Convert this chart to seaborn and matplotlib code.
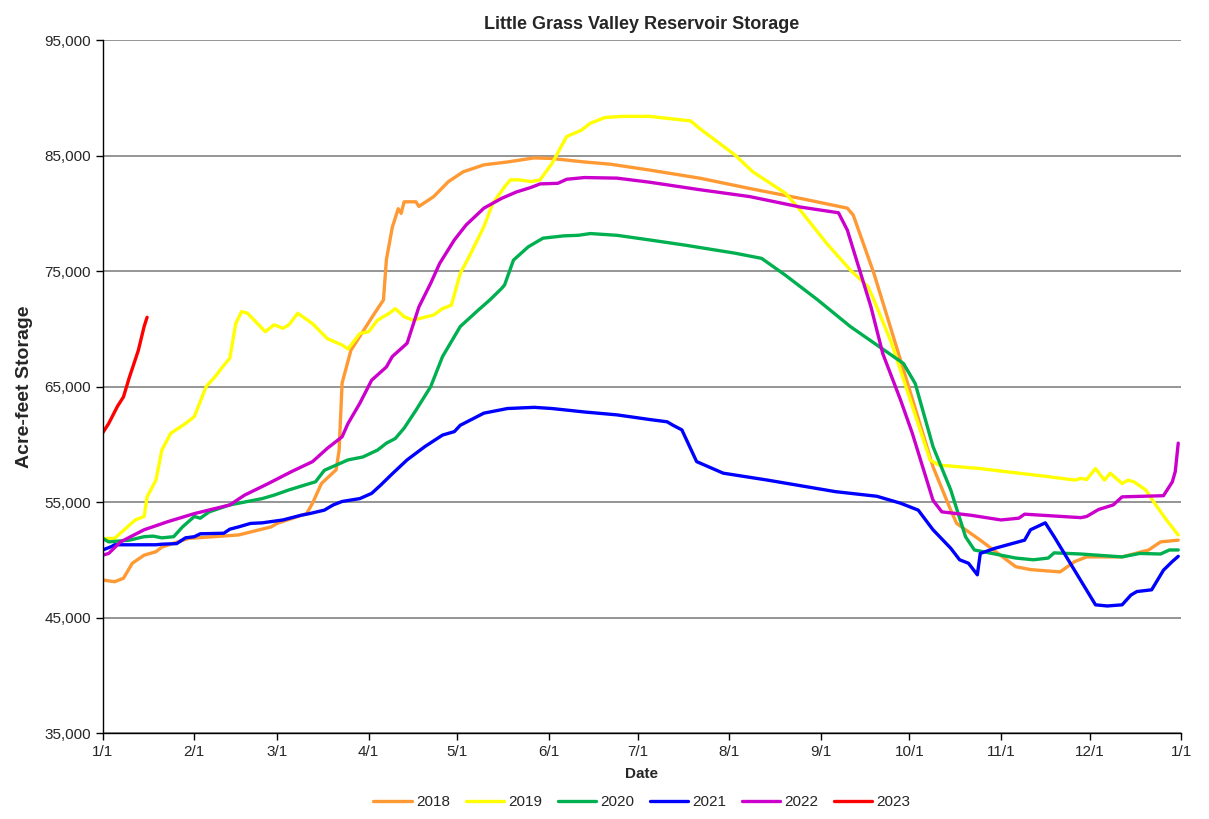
import matplotlib
matplotlib.use("Agg")
import matplotlib.pyplot as plt
import matplotlib.ticker as mticker
import pandas as pd
import seaborn as sns

#########################
#   STORAGE BY YEAR     #
#########################
# day of year (0 = Jan 1) and storage in acre-feet
days_2018 = [0, 4, 7, 10, 14, 18, 20, 29, 46, 57, 59, 69, 71, 74, 79, 80, 81, 84, 92, 95, 96, 98, 100, 101,
             102, 106, 107, 112, 117, 122, 129, 137, 146, 152, 163, 172, 185, 202, 219, 236, 252, 254, 261,
             270, 281, 287, 289, 297, 309, 314, 324, 329, 333, 345, 354, 358, 364]
vals_2018 = [48250, 48100, 48400, 49700, 50400, 50700, 51100, 51850, 52150, 52850, 53150, 54000, 54900,
             56600, 57800, 59500, 65300, 68150, 71350, 72500, 76000, 78800, 80400, 80000, 81000, 81000,
             80600, 81450, 82750, 83600, 84200, 84450, 84800, 84750, 84450, 84250, 83750, 83050, 82150,
             81300, 80450, 79850, 74800, 67300, 58050, 54300, 53150, 51700, 49400, 49150, 48950, 49850,
             50250, 50250, 50850, 51550, 51700]

days_2019 = [0, 4, 9, 11, 14, 15, 18, 20, 23, 28, 31, 35, 38, 41, 43, 45, 47, 49, 55, 58, 61, 63, 66, 71,
             76, 81, 83, 87, 90, 93, 97, 99, 102, 105, 112, 115, 118, 121, 124, 129, 132, 136, 138, 141,
             145, 148, 152, 157, 162, 165, 170, 176, 185, 199, 202, 214, 220, 231, 236, 245, 253, 259,
             261, 267, 280, 283, 297, 305, 320, 329, 331, 333, 336, 339, 341, 345, 347, 349, 353, 356,
             360, 364]
vals_2019 = [51850, 51850, 53000, 53450, 53750, 55450, 56900, 59500, 60950, 61800, 62400, 65000, 65850,
             66850, 67450, 70450, 71500, 71350, 69750, 70350, 70050, 70350, 71350, 70450, 69150, 68600,
             68250, 69600, 69750, 70750, 71350, 71750, 71050, 70750, 71200, 71750, 72050, 74800, 76250,
             78850, 80850, 82300, 82900, 82900, 82750, 82900, 84300, 86650, 87200, 87800, 88300, 88400,
             88400, 88000, 87350, 85050, 83600, 81750, 80300, 77400, 75100, 73650, 72500, 68750, 58650,
             58200, 57900, 57650, 57200, 56900, 57050, 56950, 57900, 56900, 57500, 56600, 56900, 56750,
             56050, 54900, 53450, 52150]

days_2020 = [0, 2, 9, 14, 17, 20, 24, 27, 31, 33, 36, 43, 54, 58, 63, 70, 72, 75, 79, 83, 88, 93, 96, 99,
             102, 106, 111, 115, 121, 127, 131, 135, 136, 139, 144, 149, 156, 161, 165, 174, 185, 197,
             214, 223, 231, 242, 253, 262, 271, 275, 281, 287, 292, 295, 304, 309, 315, 320, 322, 331,
             345, 351, 358, 361, 364]
vals_2020 = [51850, 51550, 51700, 52000, 52050, 51900, 52000, 52850, 53750, 53600, 54150, 54750, 55300,
             55600, 56050, 56600, 56750, 57750, 58200, 58650, 58900, 59500, 60100, 60500, 61400, 62950,
             65000, 67600, 70200, 71600, 72500, 73500, 73800, 75950, 77100, 77850, 78050, 78100, 78250,
             78100, 77700, 77250, 76550, 76100, 74650, 72500, 70200, 68600, 67000, 65250, 59800, 56050,
             52000, 50850, 50400, 50150, 50000, 50150, 50600, 50500, 50250, 50550, 50500, 50850, 50850]

days_2021 = [0, 3, 4, 14, 18, 20, 25, 28, 31, 33, 41, 43, 46, 50, 54, 61, 67, 70, 75, 78, 81, 87, 91, 94,
             98, 103, 109, 115, 119, 121, 129, 137, 146, 152, 163, 174, 185, 191, 193, 196, 201, 210, 225,
             248, 262, 270, 276, 281, 287, 290, 293, 296, 297, 302, 312, 314, 319, 322, 336, 340, 345,
             348, 350, 355, 359, 362, 364]
vals_2021 = [50850, 51150, 51300, 51300, 51300, 51350, 51400, 51900, 52000, 52250, 52300, 52650, 52850,
             53150, 53200, 53450, 53850, 54000, 54300, 54750, 55050, 55300, 55750, 56450, 57450, 58650,
             59800, 60800, 61100, 61650, 62700, 63100, 63200, 63100, 62800, 62550, 62150, 61950, 61650,
             61250, 58500, 57500, 56900, 55900, 55500, 54900, 54300, 52600, 51000, 50000, 49700, 48700,
             50550, 51000, 51700, 52600, 53200, 52000, 46100, 46000, 46100, 46950, 47250, 47400, 49100,
             49850, 50300]

days_2022 = [0, 2, 6, 14, 22, 31, 43, 48, 56, 64, 71, 76, 81, 83, 87, 91, 96, 98, 103, 107, 111, 114, 119,
             123, 129, 135, 140, 145, 148, 154, 157, 163, 174, 185, 202, 219, 236, 249, 252, 260, 264,
             270, 274, 281, 284, 294, 304, 310, 312, 331, 333, 337, 342, 345, 359, 362, 363, 364]
vals_2022 = [50400, 50550, 51550, 52600, 53300, 54000, 54750, 55600, 56600, 57650, 58500, 59650, 60650,
             61800, 63550, 65550, 66700, 67600, 68750, 71900, 73950, 75650, 77700, 79000, 80450, 81300,
             81850, 82250, 82550, 82600, 82950, 83100, 83050, 82700, 82050, 81450, 80550, 80050, 78550,
             71900, 67850, 63850, 60950, 55150, 54150, 53850, 53450, 53600, 53950, 53650, 53750, 54350,
             54750, 55450, 55550, 56750, 57650, 60100]

days_2023 = [0, 2, 3, 5, 7, 9, 12, 14, 15]
vals_2023 = [61000, 61800, 62300, 63300, 64100, 65800, 68100, 70200, 71000]

years = ['2018', '2019', '2020', '2021', '2022', '2023']
colors = ['#FF9933', '#FFFF00', '#00B050', '#0000FF', '#CC00CC', '#FF0000']

tick_days = [0, 31, 59, 90, 120, 151, 181, 212, 243, 273, 304, 334, 365]
tick_labels = ['1/1', '2/1', '3/1', '4/1', '5/1', '6/1', '7/1', '8/1', '9/1', '10/1', '11/1', '12/1', '1/1']

frames = []
for yr, d, v in zip(years,
                    [days_2018, days_2019, days_2020, days_2021, days_2022, days_2023],
                    [vals_2018, vals_2019, vals_2020, vals_2021, vals_2022, vals_2023]):
    frames.append(pd.DataFrame({'day': d, 'storage': v, 'year': yr}))
df = pd.concat(frames, ignore_index=True)

#########################
#         PLOT          #
#########################
sns.set_style("white")
plt.rcParams['font.family'] = ['Liberation Sans Narrow', 'Liberation Sans', 'DejaVu Sans']

fig = plt.figure(figsize=(12.09, 8.19), dpi=100)
ax = fig.add_axes([0.085, 0.105, 0.892, 0.846])

sns.lineplot(data=df, x='day', y='storage', hue='year', palette=dict(zip(years, colors)),
             linewidth=2.4, ax=ax, sort=False, estimator=None)

ax.set_xlim(0, 365)
ax.set_ylim(35000, 95000)
ax.set_xticks(tick_days)
ax.set_xticklabels(tick_labels)
ax.set_yticks(range(35000, 95001, 10000))
ax.yaxis.set_major_formatter(mticker.StrMethodFormatter('{x:,.0f}'))
ax.tick_params(axis='both', direction='out', length=5, width=1, labelsize=11, color='black', bottom=True, left=True)
ax.grid(axis='y', color='#8c8c8c', linewidth=1.3)
ax.set_axisbelow(True)
for s in ['top', 'right']:
    ax.spines[s].set_visible(False)
for s in ['left', 'bottom']:
    ax.spines[s].set_color('black')
    ax.spines[s].set_linewidth(1)

ax.set_title("Little Grass Valley Reservoir Storage", fontsize=13, fontweight='bold', pad=8)
ax.set_ylabel("Acre-feet Storage", fontsize=14, fontweight='bold', labelpad=8)
ax.set_xlabel("Date", fontsize=11, fontweight='bold', labelpad=6)

ax.legend(loc='upper center', bbox_to_anchor=(0.5, -0.07), ncol=6, frameon=False,
          fontsize=11, handlelength=2.5, columnspacing=1.0, handletextpad=0.3)

plt.savefig('out.png', dpi=100)
